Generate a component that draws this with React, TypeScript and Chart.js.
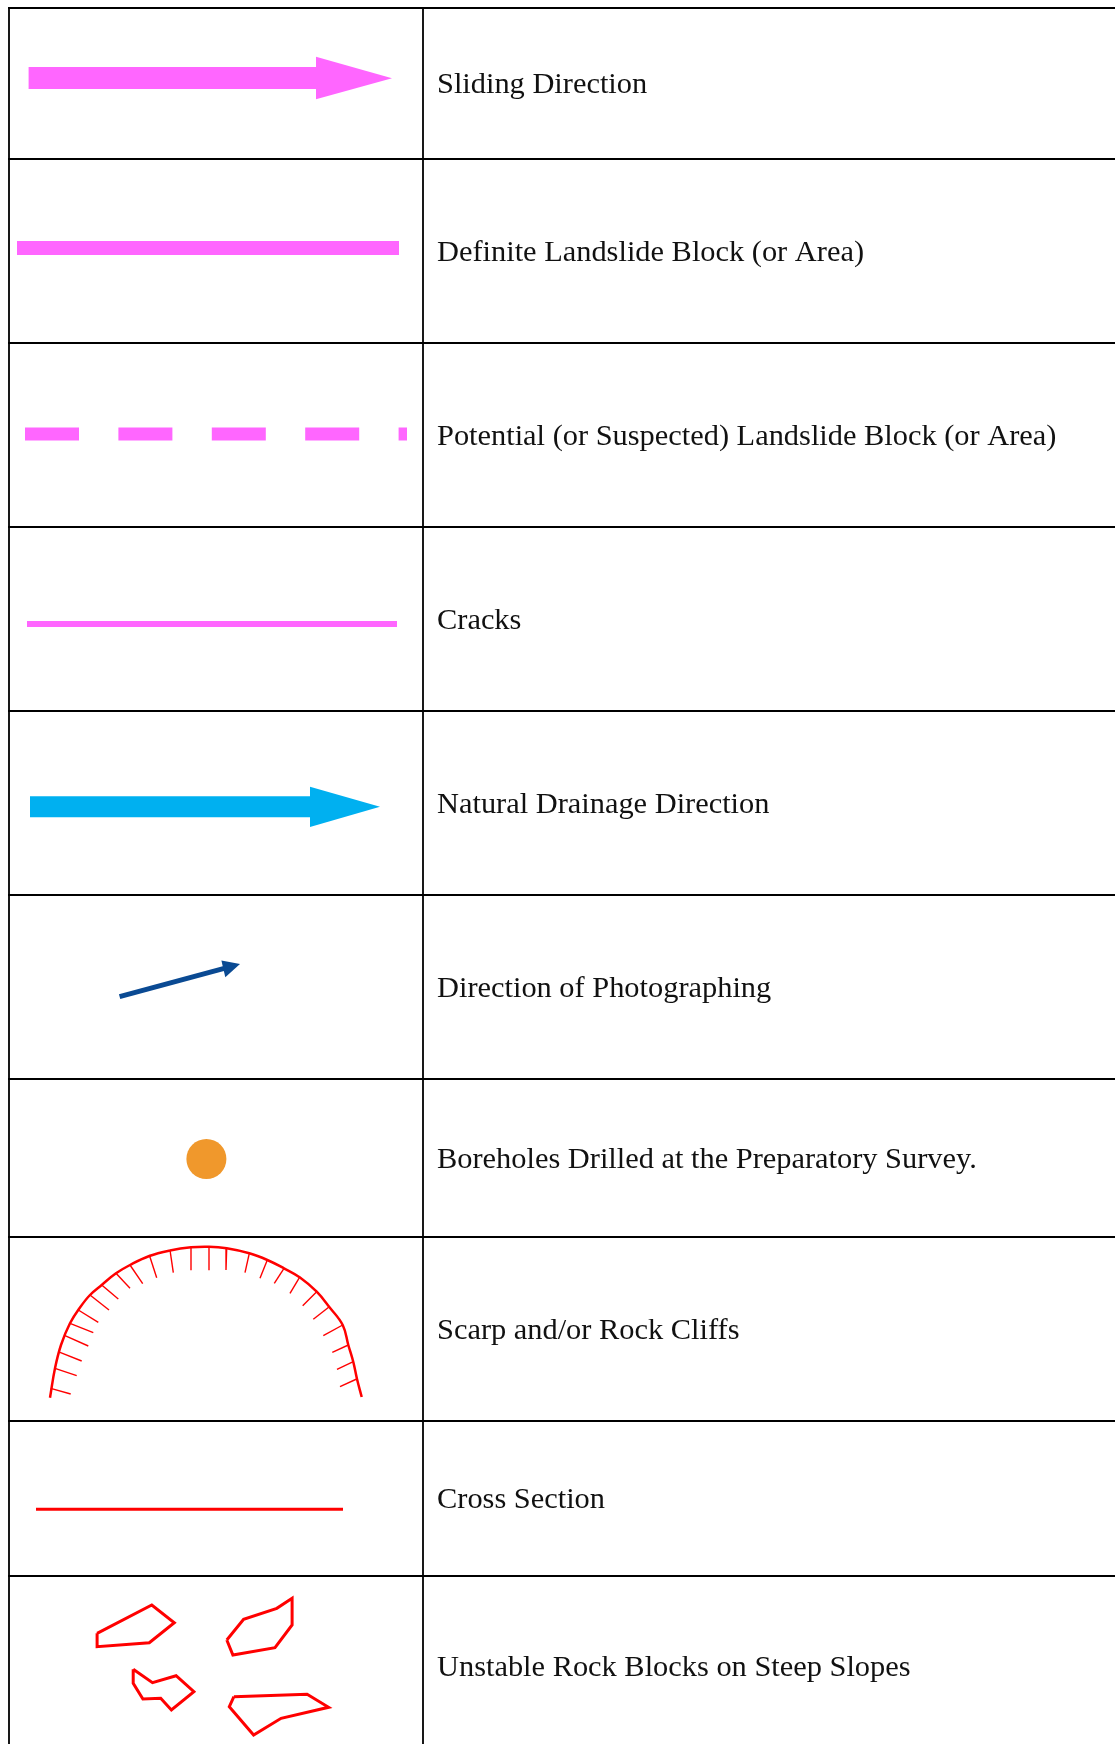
import React, { useEffect, useRef } from "react";
import { Chart, registerables } from "chart.js";

Chart.register(...registerables);

const PAGE_W = 1115;
const PAGE_H = 1744;

// Table grid
const rowLines = [8, 159, 343, 527, 711, 895, 1079, 1237, 1421, 1576];
const colLines = [9, 423];

// Legend texts and row centres
const labels = [
  "Sliding Direction",
  "Definite Landslide Block (or Area)",
  "Potential (or Suspected) Landslide Block (or Area)",
  "Cracks",
  "Natural Drainage Direction",
  "Direction of Photographing",
  "Boreholes Drilled at the Preparatory Survey.",
  "Scarp and/or Rock Cliffs",
  "Cross Section",
  "Unstable Rock Blocks on Steep Slopes",
];
const labelCenters = [83.5, 251, 435, 619, 803, 987, 1158, 1329, 1498.5, 1666];
const labelX = 437;

// Symbols
const slidingShaft = [[28.6, 78], [316, 78]];
const slidingHead = [[316, 56.7], [392, 78.3], [316, 99.3], [316, 56.7]];
const definiteLine = [[17, 248], [399, 248]];
const potentialLine = [[25, 434], [407, 434]];
const crackLine = [[27, 624], [397, 624]];
const drainageShaft = [[30, 806.8], [310, 806.8]];
const drainageHead = [[310, 786.7], [380, 806.7], [310, 827], [310, 786.7]];
const photoShaft = [[119.6, 996.7], [227, 967.6]];
const photoHead = [[240, 964], [221.4, 960.6], [225.3, 977.2], [240, 964]];
const borehole = [[206.4, 1159]];
const scarpArc = [
  [50, 1397.7], [55, 1368.3], [61, 1345], [70, 1323.3], [80, 1307.5],
  [90, 1295], [101.7, 1285], [116, 1273.3], [130, 1265], [149.3, 1256], [170, 1250.5],
  [191, 1247.3], [209, 1246.7], [226.7, 1248.3], [249.3, 1253.3], [267.3, 1260],
  [284, 1268.3], [300, 1277.5], [316.7, 1291.7], [329.3, 1307], [342.7, 1325],
  [348.3, 1345], [353.3, 1362], [357, 1379], [361.7, 1397],
];
const scarpHachures = [
  [[50.7, 1388.3], [70.7, 1394]],
  [[55, 1368.3], [76.7, 1375.7]],
  [[60, 1352.3], [81.7, 1361]],
  [[65, 1335.7], [88.3, 1346]],
  [[70, 1323.3], [93.3, 1332.7]],
  [[78.3, 1310], [98.3, 1322.3]],
  [[90, 1295], [109, 1310]],
  [[101.7, 1285], [118.3, 1299]],
  [[116, 1273.3], [130, 1288.3]],
  [[130, 1265], [142.7, 1283.7]],
  [[149.3, 1255], [156.7, 1277.7]],
  [[170, 1250], [173.3, 1272.7]],
  [[191, 1247.3], [191, 1270.3]],
  [[209, 1246.7], [209, 1270.3]],
  [[226.7, 1248.3], [226, 1270]],
  [[249.3, 1253.3], [245, 1272.7]],
  [[267.3, 1260], [260, 1278.3]],
  [[284, 1268.3], [274.3, 1283.3]],
  [[300, 1276.7], [290, 1293.3]],
  [[316.7, 1291.7], [302.7, 1305.7]],
  [[329.3, 1306.7], [313.3, 1319.3]],
  [[342.7, 1325], [323.3, 1335.7]],
  [[348.3, 1345], [332.3, 1352.3]],
  [[353.3, 1361.7], [337, 1369.3]],
  [[356.7, 1379], [340, 1386.7]],
];
const crossSection = [[36, 1509.3], [343, 1509.3]];
const rockBlocks = [
  [[97.1, 1633.3], [151.8, 1605], [174.3, 1622.7], [149.3, 1642.7], [97.1, 1646.7], [97.1, 1633.3]],
  [[226.8, 1640], [243.6, 1619.3], [276.8, 1608.3], [292.1, 1598.3], [292.1, 1625], [275, 1647.7], [232.9, 1655], [226.8, 1640]],
  [[133.2, 1669.3], [152.5, 1682.7], [176.1, 1675.7], [193.9, 1691.7], [171.4, 1710], [160.7, 1698.3], [142.9, 1699], [133.2, 1683.3], [133.2, 1669.3]],
  [[233.9, 1696.7], [307.1, 1694.3], [328.6, 1707.3], [281.1, 1718.3], [253.6, 1735], [229.3, 1706.7], [233.9, 1696.7]],
];

const PINK = "#ff66ff";
const BLUE = "#00b0f0";
const NAVY = "#0a4a93";
const ORANGE = "#f0982c";
const RED = "#ff0000";

const pts = (arr: number[][]) => arr.map(([x, y]) => ({ x, y }));

function lineDs(data: number[][], color: string, width: number, extra: any = {}) {
  return {
    data: pts(data),
    showLine: true,
    borderColor: color,
    backgroundColor: color,
    borderWidth: width,
    pointRadius: 0,
    tension: 0,
    fill: false,
    borderCapStyle: "butt",
    borderJoinStyle: "miter",
    clip: false,
    ...extra,
  };
}

function shapeDs(data: number[][], color: string) {
  return {
    data: pts(data),
    showLine: true,
    borderColor: "rgba(0,0,0,0)",
    backgroundColor: color,
    borderWidth: 1,
    pointRadius: 0,
    tension: 0,
    fill: "shape",
    clip: false,
  };
}

const textPlugin = {
  id: "legendText",
  afterDatasetsDraw(chart: any) {
    const { ctx, scales } = chart;
    const xs = scales.x;
    const ys = scales.y;
    ctx.save();
    ctx.font = '30.4px "Liberation Serif", "Times New Roman", serif';
    ctx.fillStyle = "#111111";
    ctx.textBaseline = "alphabetic";
    ctx.textAlign = "left";
    labels.forEach((t, i) => {
      ctx.fillText(t, xs.getPixelForValue(labelX), ys.getPixelForValue(labelCenters[i] + 9.5));
    });
    ctx.restore();
  },
};

export default function App() {
  const ref = useRef<HTMLCanvasElement | null>(null);

  useEffect(() => {
    document.body.style.margin = "0";
    document.body.style.overflow = "hidden";
    const canvas = ref.current;
    if (!canvas) return;

    const datasets: any[] = [];
    rowLines.forEach((y) =>
      datasets.push(lineDs([[colLines[0], y], [PAGE_W + 5, y]], "#000", 1.8, { borderCapStyle: "square" }))
    );
    colLines.forEach((x) =>
      datasets.push(lineDs([[x, rowLines[0]], [x, PAGE_H + 5]], "#000", 1.8, { borderCapStyle: "square" }))
    );

    datasets.push(lineDs(slidingShaft, PINK, 22));
    datasets.push(shapeDs(slidingHead, PINK));
    datasets.push(lineDs(definiteLine, PINK, 14));
    datasets.push(lineDs(potentialLine, PINK, 13, { borderDash: [54, 39.4] }));
    datasets.push(lineDs(crackLine, PINK, 6));
    datasets.push(lineDs(drainageShaft, BLUE, 21));
    datasets.push(shapeDs(drainageHead, BLUE));
    datasets.push(lineDs(photoShaft, NAVY, 5));
    datasets.push(shapeDs(photoHead, NAVY));
    datasets.push({
      data: pts(borehole),
      showLine: false,
      pointRadius: 20,
      pointBackgroundColor: ORANGE,
      pointBorderWidth: 0,
      pointBorderColor: ORANGE,
      clip: false,
    });
    datasets.push(lineDs(scarpArc, RED, 2.5, { tension: 0.4, borderJoinStyle: "round" }));
    scarpHachures.forEach((h) => datasets.push(lineDs(h, RED, 1.4)));
    datasets.push(lineDs(crossSection, RED, 3));
    rockBlocks.forEach((b) => datasets.push(lineDs(b, RED, 3)));

    const chart = new Chart(canvas, {
      type: "scatter",
      data: { datasets },
      options: {
        animation: false,
        responsive: false,
        maintainAspectRatio: false,
        devicePixelRatio: 1,
        events: [],
        layout: { padding: 0, autoPadding: false },
        plugins: {
          legend: { display: false },
          tooltip: { enabled: false },
          title: { display: false },
        },
        scales: {
          x: { type: "linear", min: 0, max: PAGE_W, display: false },
          y: { type: "linear", min: 0, max: PAGE_H, reverse: true, display: false },
        },
      } as any,
      plugins: [textPlugin],
    });
    return () => chart.destroy();
  }, []);

  return (
    <div style={{ width: PAGE_W, height: PAGE_H, background: "#fff" }}>
      <canvas ref={ref} width={PAGE_W} height={PAGE_H} style={{ display: "block", width: PAGE_W, height: PAGE_H }} />
    </div>
  );
}
